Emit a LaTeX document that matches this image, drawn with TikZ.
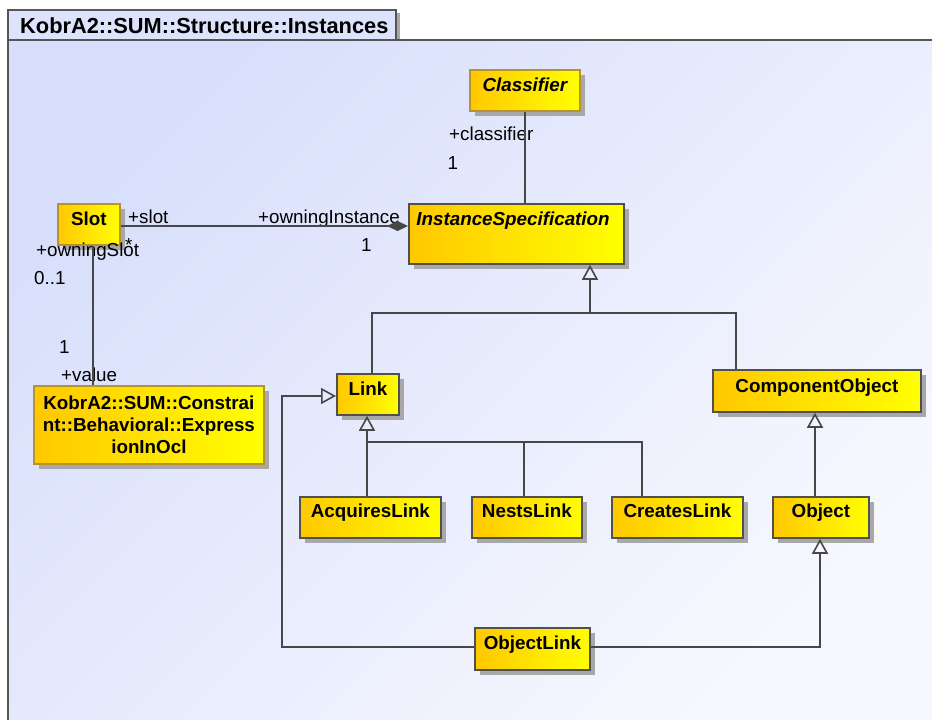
\documentclass[tikz,border=0pt]{standalone}
\usepackage{fontspec}
\setmainfont{Liberation Sans}
\usetikzlibrary{arrows.meta,shadows}
\definecolor{frameC}{HTML}{555555}
\definecolor{bgA}{HTML}{D8DFFB}
\definecolor{bgB}{HTML}{F7F8FE}
\definecolor{tabC}{HTML}{DCE3FC}
\definecolor{boxL}{HTML}{FFC800}
\definecolor{boxR}{HTML}{FFFF00}
\definecolor{boxLine}{HTML}{505050}
\definecolor{tanLine}{HTML}{B8922E}
\definecolor{shadowC}{HTML}{A8A8A8}
\definecolor{lineC}{HTML}{474747}
\newcommand\lblfont{\fontsize{18.8}{21.7}\selectfont}
\newcommand\ttlfont{\bfseries\fontsize{21.8}{24}\selectfont}
\begin{document}
\begin{tikzpicture}[x=1pt,y=-1pt,
  cls/.style={draw=boxLine, line width=1.8pt, left color=boxL, right color=boxR,
    drop shadow={shadow xshift=5pt, shadow yshift=-5pt, fill=shadowC, opacity=1},
    inner xsep=0pt, inner ysep=0pt, anchor=north west,
    font=\bfseries\lblfont, text height=22pt},
  tancls/.style={cls, draw=tanLine},
  lbl/.style={anchor=base west, inner sep=0pt, font=\lblfont},
  conn/.style={draw=lineC, line width=1.6pt},
  gen/.style={conn, -{Triangle[open, length=15pt, width=16pt, line width=1.6pt]}},
  comp/.style={conn, -{Diamond[length=21pt, width=10pt, fill=lineC]}}]
\useasboundingbox (0,0) rectangle (932,720);
% frame body
\shade[top color=bgA, bottom color=bgB, shading angle=45] (8,40) rectangle (932,720);
\fill[shadowC] (396,13) rectangle (399.5,40);
\draw[draw=frameC, line width=1.6pt, fill=tabC] (8,10) rectangle (396,40);
\draw[draw=frameC, line width=1.6pt] (8,720) -- (8,40) -- (932,40);
\node[anchor=base west, inner sep=0pt, font=\ttlfont] (title) at (20,33) {KobrA2::SUM::Structure::Instances};

% classes
\node[tancls, minimum width=110pt, text depth=19pt, font=\bfseries\itshape\lblfont] (classifier) at (469,69) {Classifier};
\node[cls, text width=200pt, inner xsep=7.5pt, align=left, text depth=38pt, font=\bfseries\itshape\lblfont] (instspec) at (408,203) {InstanceSpecification};
\node[tancls, minimum width=62pt, text depth=19pt] (slot) at (57,203) {Slot};
\node[tancls, minimum width=230pt, minimum height=78pt, text height=, text depth=, align=center] (expr) at (33,385) {KobrA2::SUM::Constrai\\nt::Behavioral::Express\\ionInOcl};
\node[cls, minimum width=62pt, text depth=19pt] (link) at (336,373) {Link};
\node[cls, minimum width=208pt, text depth=19pt, text height=23pt] (compobj) at (712,369) {ComponentObject\hspace{8pt}};
\node[cls, minimum width=141pt, text depth=20pt, text height=21pt] (acq) at (299,496) {AcquiresLink\hspace{6pt}};
\node[cls, minimum width=110pt, text depth=20pt, text height=21pt] (nests) at (471,496) {NestsLink\hspace{6pt}};
\node[cls, minimum width=131pt, text depth=20pt, text height=21pt] (creates) at (611,496) {CreatesLink\hspace{8pt}};
\node[cls, minimum width=96pt, text depth=20pt, text height=21pt] (object) at (772,496) {Object};
\node[cls, minimum width=115pt, text depth=20pt, text height=22pt] (objlink) at (474,627) {ObjectLink\hspace{4pt}};

% labels
\node[lbl] (lcls) at (449,140) {+classifier};
\node[lbl] (lcls1) at (447.5,169) {1};
\node[lbl] (lslot) at (128,223) {+slot};
\node[lbl] (lown) at (258,223) {+owningInstance};
\node[lbl] (lown1) at (361,251) {1};
\node[lbl] (lstar) at (125,251) {*};
\node[lbl] (lows) at (36,256) {+owningSlot};
\node[lbl] (lows1) at (34,284) {0..1};
\node[lbl] (lval1) at (59,353) {1};
\node[lbl] (lval) at (61,381) {+value};

% connectors
\draw[conn] (classifier.south) -- (classifier.south |- instspec.north);
\draw[comp] (slot.east |- 0,226) -- (instspec.west |- 0,226);
\draw[conn] (slot.south -| 93,0) -- (expr.north -| 93,0);
\coordinate (g1) at (590,313);
\draw[gen] (g1) -- (instspec.south -| g1);
\draw[conn] (link.north -| 372,0) -- (372,313) -- (736,313) -- (compobj.north -| 736,0);
\coordinate (g2) at (367,442);
\draw[gen] (acq.north -| g2) -- (link.south -| g2);
\draw[conn] (g2) -- (642,442) -- (creates.north -| 642,0);
\draw[conn] (nests.north -| 524,0) -- (524,442);
\draw[gen] (objlink.west |- 0,647) -- (282,647) -- (282,396) -- (link.west |- 0,396);
\draw[gen] (objlink.east |- 0,647) -- (820,647) -- (object.south -| 820,0);
\draw[gen] (object.north -| 815,0) -- (compobj.south -| 815,0);
\end{tikzpicture}
\end{document}
